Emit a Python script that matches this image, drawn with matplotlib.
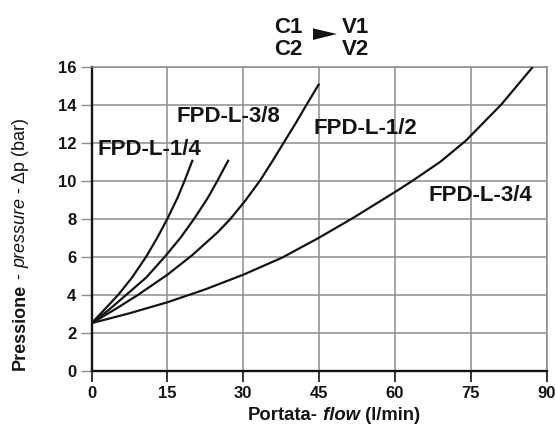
import matplotlib.pyplot as plt
from matplotlib.patches import Polygon

# values (flow l/min, pressure bar)
flow_14 = [0, 2.5, 5.3, 8.0, 10.8, 13.0, 15.0, 17.0, 18.4, 19.2, 20.0]
dp_14 = [2.5, 3.2, 4.0, 4.9, 6.0, 7.0, 8.0, 9.1, 10.0, 10.55, 11.1]

flow_38 = [0, 3.4, 6.9, 10.8, 14.5, 17.6, 20.3, 23.0, 24.9, 26.0, 27.1]
dp_38 = [2.5, 3.2, 4.0, 4.9, 6.0, 7.0, 8.0, 9.1, 10.0, 10.55, 11.1]

flow_12 = [0, 4.6, 9.25, 15, 20, 25, 27.5, 30.4, 33.3, 35.7, 38, 40.2, 42.3, 45]
dp_12 = [2.5, 3.22, 4.0, 5.05, 6.1, 7.3, 8.0, 8.95, 10.0, 11.0, 12.0, 12.95, 13.9, 15.1]

flow_34 = [0, 7.5, 15, 22.5, 30, 37.7, 45, 51.6, 60, 63.5, 69, 74, 81, 87.3]
dp_34 = [2.5, 3.02, 3.6, 4.28, 5.05, 5.95, 7.0, 8.02, 9.4, 10.0, 11.0, 12.1, 14.0, 16.0]

series_names = ["FPD-L-1/4", "FPD-L-3/8", "FPD-L-1/2", "FPD-L-3/4"]
label_pos = [(1.25, 11.33), (16.7, 13.07), (43.9, 12.43), (66.7, 8.92)]

flow_ticks = [0, 15, 30, 45, 60, 75, 90]
dp_ticks = [0, 2, 4, 6, 8, 10, 12, 14, 16]

plt.rcParams["font.family"] = ["Liberation Sans", "DejaVu Sans"]

grid_color = "#8c8c8c"
ink = "#141414"

fig = plt.figure(figsize=(5.55, 4.3), dpi=100)
ax = fig.add_axes([0.165, 0.138, 0.820, 0.707])

curves = [(flow_14, dp_14), (flow_38, dp_38), (flow_12, dp_12), (flow_34, dp_34)]
for (q, p), name, (lx, ly) in zip(curves, series_names, label_pos):
    ax.plot(q, p, color=ink, linewidth=1.6, solid_joinstyle="round",
            solid_capstyle="butt", zorder=3)
    ax.text(lx, ly, name, fontsize=16, fontweight="bold", color=ink,
            ha="left", va="baseline", zorder=4)

ax.set_xlim(0, 90)
ax.set_ylim(0, 16)
ax.set_xticks(flow_ticks)
ax.set_yticks(dp_ticks)
ax.grid(True, color=grid_color, linewidth=1.1)
ax.set_axisbelow(True)

for side in ["top", "right"]:
    ax.spines[side].set_color(grid_color)
    ax.spines[side].set_linewidth(1.1)
for side in ["left", "bottom"]:
    ax.spines[side].set_color(ink)
    ax.spines[side].set_linewidth(1.7)

ax.tick_params(axis="y", length=8, width=1.0, color=grid_color, pad=3,
               labelsize=12, labelcolor=ink)
ax.tick_params(axis="x", length=8, width=1.2, color=ink, pad=3,
               labelsize=12, labelcolor=ink)
for lab in ax.get_xticklabels() + ax.get_yticklabels():
    lab.set_fontweight("bold")

# x label: Portata- flow (l/min)
t = fig.text(0.447, 0.023, "Portata-", fontsize=13.3, fontweight="bold",
             color=ink, ha="left", va="baseline")
for s, style in [(" flow", "italic"), (" (l/min)", "normal")]:
    t = ax.annotate(s, xy=(1.0, 0.023), xycoords=(t, "figure fraction"),
                    fontsize=13.3, fontweight="bold", fontstyle=style,
                    color=ink, ha="left", va="baseline", annotation_clip=False)

# y label: Pressione - pressure - Δp (bar)
t = fig.text(0.045, 0.1395, "Pressione", fontsize=13, fontweight="bold",
             color=ink, rotation=90, rotation_mode="anchor",
             ha="left", va="baseline")
for s, weight, style in [(" - ", "normal", "normal"),
                         ("pressure", "normal", "italic"),
                         (" - Δp (bar)", "normal", "normal")]:
    t = ax.annotate(s, xy=(0.045, 1.0), xycoords=("figure fraction", t),
                    fontsize=13, fontweight=weight, fontstyle=style,
                    color=ink, rotation=90, rotation_mode="anchor",
                    ha="left", va="baseline", annotation_clip=False)

# header C1/C2 -> V1/V2
for txt, x, y in [("C1", 0.494, 0.923), ("C2", 0.494, 0.872),
                  ("V1", 0.616, 0.923), ("V2", 0.616, 0.872)]:
    fig.text(x, y, txt, fontsize=16, fontweight="bold", color=ink,
             ha="left", va="baseline")
fig.patches.append(Polygon([(0.564, 0.934), (0.564, 0.907), (0.607, 0.921)],
                           closed=True, transform=fig.transFigure,
                           facecolor=ink, edgecolor="none"))

fig.savefig("out.png", dpi=100)
